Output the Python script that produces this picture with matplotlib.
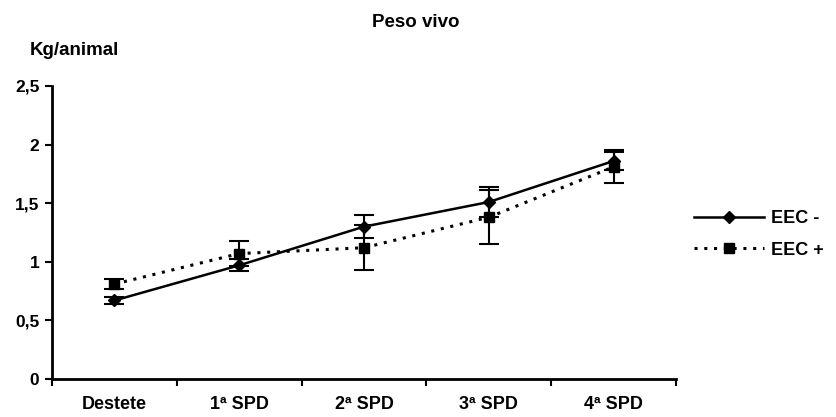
import matplotlib
matplotlib.use("Agg")
import matplotlib.pyplot as plt
from matplotlib.lines import Line2D
import numpy as np

plt.rcParams['font.family'] = ['Liberation Sans', 'DejaVu Sans']
plt.rcParams['font.weight'] = 'bold'

categorias = ["Destete", "1ª SPD", "2ª SPD", "3ª SPD", "4ª SPD"]
eec_menos = [0.67, 0.97, 1.30, 1.51, 1.86]
eec_menos_err = [0.03, 0.05, 0.10, 0.13, 0.08]
eec_mas = [0.81, 1.07, 1.12, 1.38, 1.81]
eec_mas_err = [0.04, 0.11, 0.19, 0.23, 0.14]
yticks = [0, 0.5, 1, 1.5, 2, 2.5]
ytick_labels = ["0", "0,5", "1", "1,5", "2", "2,5"]

fig = plt.figure(figsize=(8.36, 4.17), dpi=100)
ax = fig.add_axes([0.0622, 0.0911, 0.7464, 0.7027])

punteado = (0, (1, 2.2))
x = np.arange(len(categorias))
ax.errorbar(x, eec_menos, yerr=eec_menos_err, color='black', lw=1.8, ls='-',
            marker='D', ms=6, capsize=7.5, elinewidth=1.5, capthick=1.5)
ax.errorbar(x, eec_mas, yerr=eec_mas_err, color='black', lw=2.2, ls=punteado,
            marker='s', ms=7, capsize=7.5, elinewidth=1.5, capthick=1.5)

ax.set_xlim(-0.5, len(categorias) - 0.5)
ax.set_ylim(0, 2.5)
ax.set_yticks(yticks)
ax.set_yticklabels(ytick_labels)
ax.set_xticks(x)
ax.set_xticklabels(categorias)
ax.set_xticks(np.arange(len(categorias) + 1) - 0.5, minor=True)
ax.tick_params(axis='x', which='major', length=0, pad=12, labelsize=13)
ax.tick_params(axis='x', which='minor', length=5, width=1.5, direction='out')
ax.tick_params(axis='y', length=5, width=1.5, labelsize=12.5, pad=4)

for s in ['top', 'right']:
    ax.spines[s].set_visible(False)
for s in ['left', 'bottom']:
    ax.spines[s].set_linewidth(2)

fig.text(0.497, 0.945, "Peso vivo", ha='center', va='center', fontsize=13.5, weight='bold')
fig.text(0.035, 0.88, "Kg/animal", ha='left', va='center', fontsize=13.5, weight='bold')

h1 = Line2D([], [], color='black', lw=1.8, ls='-', marker='D', ms=6)
h2 = Line2D([], [], color='black', lw=2.2, ls=punteado, marker='s', ms=7)
fig.legend([h1, h2], ['EEC -', 'EEC +'], loc='center left', bbox_to_anchor=(0.830, 0.4376),
           frameon=False, fontsize=13, handlelength=3.9, handletextpad=0.35,
           labelspacing=0.8, borderpad=0, borderaxespad=0)

fig.savefig("out.png", dpi=100)
